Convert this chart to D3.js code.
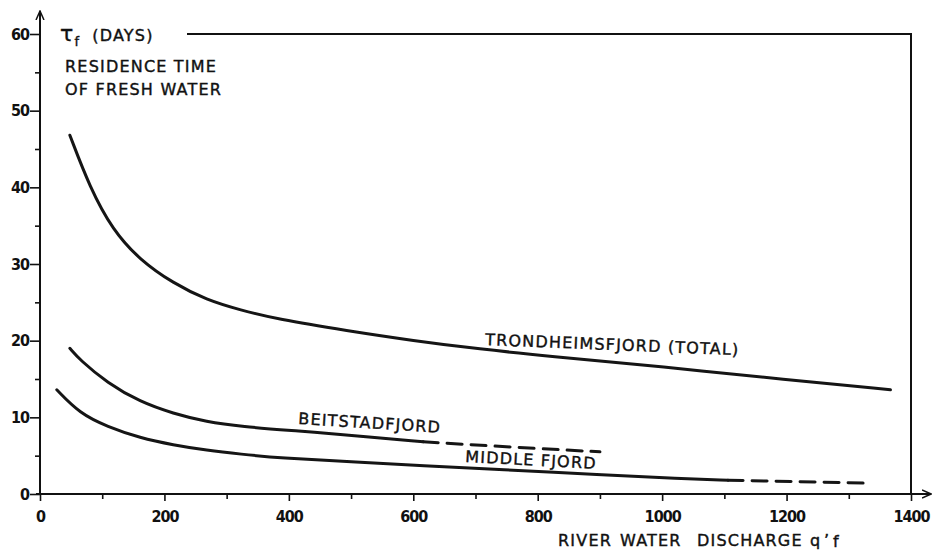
<!DOCTYPE html>
<html>
<head>
<meta charset="utf-8">
<script src="https://cdn.jsdelivr.net/npm/d3@7"></script>
<style>
  body { margin: 0; background: #fff; }
  svg text { font-family: "DejaVu Sans", sans-serif; fill: #111; }
</style>
</head>
<body>
<div id="chart"></div>
<script>
// Residence time of fresh water vs river discharge
var trondQ = [48, 80, 117, 161, 214, 268, 322, 381, 494, 600, 707, 815, 1000, 1200, 1367];
var trondT = [46.8, 40.0, 34.4, 30.5, 27.5, 25.3, 24.0, 22.8, 21.3, 20.0, 18.9, 18.0, 16.6, 14.9, 13.6];

var beitQ = [48, 64, 108, 161, 214, 268, 322, 418, 500, 616];
var beitT = [19.0, 17.5, 14.5, 12.0, 10.5, 9.4, 8.8, 8.2, 7.65, 6.8];
var beitDashQ = [616, 760, 900];
var beitDashT = [6.8, 6.1, 5.5];

var midQ = [27, 64, 108, 161, 214, 268, 322, 386, 500, 616, 740, 900, 1029, 1106];
var midT = [13.6, 10.5, 8.8, 7.3, 6.4, 5.7, 5.2, 4.7, 4.2, 3.7, 3.2, 2.5, 2.0, 1.8];
var midDashQ = [1106, 1336];
var midDashT = [1.8, 1.4];

var xMajor = [0, 200, 400, 600, 800, 1000, 1200, 1400];
var xMinor = [100, 300, 500, 700, 900, 1100, 1300];
var yMajor = [0, 10, 20, 30, 40, 50, 60];
var yMinor = [5, 15, 25, 35, 45, 55];

var w = 935;
var h = 554;

var svg = d3.select('#chart').append('svg')
  .attr('width', w)
  .attr('height', h);

var x = d3.scaleLinear().domain([0, 1400]).range([40, 911]);
var y = d3.scaleLinear().domain([0, 60]).range([494, 34]);

function pairs(qs, ts) {
  return qs.map(function(q, i) { return [q, ts[i]]; });
}

var line = d3.line()
  .x(function(d) { return x(d[0]); })
  .y(function(d) { return y(d[1]); })
  .curve(d3.curveBasis);

// arrow head
svg.append('defs').append('marker')
  .attr('id', 'arrow')
  .attr('viewBox', '0 0 10 10')
  .attr('refX', 9).attr('refY', 5)
  .attr('markerWidth', 10).attr('markerHeight', 10)
  .attr('markerUnits', 'userSpaceOnUse')
  .attr('orient', 'auto')
  .append('path')
  .attr('d', 'M0,1 L9,5 L0,9')
  .attr('fill', 'none')
  .attr('stroke', '#111')
  .attr('stroke-width', 1.5);

// frame (top + right)
svg.append('path')
  .attr('d', 'M' + 187 + ',' + y(60) + 'H' + x(1400) + 'V' + y(0))
  .attr('fill', 'none')
  .attr('stroke', '#111')
  .attr('stroke-width', 2);

// axes lines with arrows
svg.append('line')
  .attr('x1', x(0)).attr('y1', y(0))
  .attr('x2', x(0)).attr('y2', 11)
  .attr('stroke', '#111').attr('stroke-width', 2)
  .attr('marker-end', 'url(#arrow)');
svg.append('line')
  .attr('x1', x(0) - 4).attr('y1', y(0))
  .attr('x2', 931).attr('y2', y(0))
  .attr('stroke', '#111').attr('stroke-width', 2)
  .attr('marker-end', 'url(#arrow)');

// x axis
svg.append('g')
  .attr('transform', 'translate(0,' + y(0) + ')')
  .call(d3.axisBottom(x).tickValues(xMajor).tickSize(7).tickPadding(10)
    .tickFormat(d3.format('d')));
svg.append('g')
  .attr('transform', 'translate(0,' + y(0) + ')')
  .call(d3.axisBottom(x).tickValues(xMinor).tickSize(5).tickFormat(''));

// y axis
svg.append('g')
  .attr('transform', 'translate(' + x(0) + ',0)')
  .call(d3.axisLeft(y).tickValues(yMajor).tickSize(10).tickPadding(1));
svg.append('g')
  .attr('transform', 'translate(' + x(0) + ',0)')
  .call(d3.axisLeft(y).tickValues(yMinor).tickSize(5).tickFormat(''));

svg.selectAll('.domain').remove();
svg.selectAll('.tick line').attr('stroke', '#111').attr('stroke-width', 1.6);
svg.selectAll('.tick text')
  .style('font-family', '"DejaVu Sans Condensed", "DejaVu Sans", sans-serif')
  .style('font-size', '16px')
  .style('font-weight', 'bold')
  .style('letter-spacing', '-1px')
  .attr('fill', '#111');

// curves
function drawCurve(qs, ts, dashed) {
  svg.append('path')
    .datum(pairs(qs, ts))
    .attr('d', line)
    .attr('fill', 'none')
    .attr('stroke', '#151515')
    .attr('stroke-width', 3)
    .attr('stroke-linecap', 'round')
    .attr('stroke-dasharray', dashed ? '15,9' : null);
}
drawCurve(trondQ, trondT, false);
drawCurve(beitQ, beitT, false);
drawCurve(beitDashQ, beitDashT, true);
drawCurve(midQ, midT, false);
drawCurve(midDashQ, midDashT, true);

// text helper: stencil-like lettering
function lettering(sel) {
  return sel.style('font-size', '16px')
    .style('letter-spacing', '1.2px')
    .attr('stroke', '#111')
    .attr('stroke-width', 0.4);
}

function label(txt, px, py, angle) {
  lettering(svg.append('text')
    .attr('transform', 'translate(' + px + ',' + py + ') rotate(' + angle + ')'))
    .text(txt);
}
label('TRONDHEIMSFJORD  (TOTAL)', 485, 345, 2.3);
label('BEITSTADFJORD', 298, 424, 3.5);
label('MIDDLE  FJORD', 465, 462, 3.0);

// y axis title
var t = lettering(svg.append('text')
  .attr('x', 60).attr('y', 41));
t.append('tspan').text('τ').style('font-size', '22px');
t.append('tspan').attr('dy', 5).style('font-size', '13px').text('f');
t.append('tspan').attr('dy', -5).attr('dx', 12).text('(DAYS)');

lettering(svg.append('text').attr('x', 65).attr('y', 72))
  .text('RESIDENCE  TIME');
lettering(svg.append('text').attr('x', 65).attr('y', 95))
  .text('OF  FRESH  WATER');

// x axis title, words spread like the hand lettering
var xt = lettering(svg.append('text').attr('y', 546));
xt.append('tspan').attr('x', 558).text('RIVER');
xt.append('tspan').attr('x', 620).text('WATER');
xt.append('tspan').attr('x', 697).text('DISCHARGE');
xt.append('tspan').attr('x', 810).text('q');
xt.append('tspan').attr('x', 824).text('\u2019');
xt.append('tspan').attr('x', 833).attr('dy', 1).text('f');
</script>
</body>
</html>
